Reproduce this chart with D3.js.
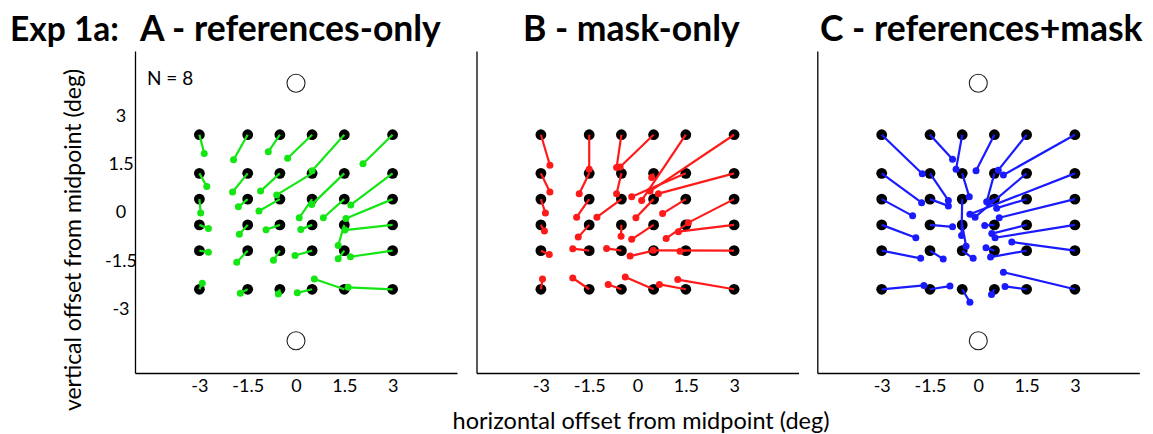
<!DOCTYPE html>
<html><head><meta charset="utf-8">
<script src="https://cdn.jsdelivr.net/npm/d3@7"></script>
<style>body{margin:0;background:#fff} svg{display:block} text{font-family:Lato, "Open Sans", sans-serif}</style>
</head><body><svg id="c" width="1153" height="434"></svg>
<script>
// ---- data ----
const gridX = [-3, -1.5, -0.5, 0.5, 1.5, 3];
const gridY = [2.4, 1.2, 0.4, -0.4, -1.2, -2.4];
const xTicks = [-3, -1.5, 0, 1.5, 3];
const yTicks = [3, 1.5, 0, -1.5, -3];
const panelTitles = ["A - references-only", "B - mask-only", "C - references+mask"];
const refCircleY = [4, -4];

// perceived positions, row-major (rows = gridY, cols = gridX)
const refsOnlyX = [
  -2.85, -1.94, -0.86, -0.26, 0.50, 2.08,
  -2.77, -1.97, -1.10, -0.60, 0.49, 1.70,
  -2.96, -1.79, -1.15, 0.10, 0.85, 1.55,
  -2.72, -1.76, -0.93, 0.15, 1.31, 1.52,
  -2.72, -1.84, -0.70, -0.03, 1.31, 1.69,
  -2.91, -1.73, -0.55, 0.04, 0.57, 1.62];
const refsOnlyY = [
  1.82, 1.62, 1.87, 1.67, 1.28, 1.50,
  0.79, 0.62, 0.65, 0.53, 0.23, 0.22,
  -0.03, 0.16, 0.03, -0.18, -0.18, -0.20,
  -0.51, -0.69, -0.55, -0.54, -1.04, -0.56,
  -1.25, -1.56, -1.50, -1.35, -1.45, -1.39,
  -2.21, -2.52, -2.55, -2.51, -2.08, -2.34];
const maskOnlyX = [
  -2.72, -1.50, -0.65, -0.54, 0.13, 0.39,
  -2.72, -1.81, -0.65, 0.44, -0.18, 0.65,
  -2.86, -1.89, -1.26, -0.05, 0.78, 1.58,
  -2.89, -1.84, -0.51, -0.18, 0.89, 1.27,
  -2.74, -2.01, -0.96, -0.23, 1.32, 0.49,
  -2.95, -2.01, -0.91, -0.38, 0.68, 1.25];
const maskOnlyY = [
  1.45, 1.33, 1.38, 1.40, 0.36, 0.65,
  0.62, 0.57, 0.57, 1.07, 0.47, 0.57,
  -0.03, -0.16, -0.16, -0.18, -0.05, -0.33,
  -0.59, -0.78, -0.75, -0.85, -0.82, -0.61,
  -1.32, -1.14, -1.13, -1.37, -1.22, -1.19,
  -2.08, -2.05, -2.25, -2.02, -2.25, -2.10];
const refsMaskX = [
  -1.74, -0.80, -0.69, -0.07, 0.62, 0.78,
  -1.76, -0.93, -0.28, 0.26, -0.10, -0.26,
  -2.04, -0.93, -0.52, 0.31, 0.57, 0.65,
  -1.94, -0.80, -0.38, 0.20, 0.42, 0.52,
  -1.79, -1.09, -0.16, 0.24, 0.38, 1.04,
  -1.69, -0.88, -0.26, 0.41, 0.83, 0.78];
const refsMaskY = [
  1.19, 1.64, 1.33, 1.28, 1.30, 1.15,
  0.29, 0.36, 0.47, 0.32, -0.16, -0.07,
  -0.12, 0.19, -0.73, 0.29, 0.12, -0.18,
  -0.80, -0.46, -1.06, -0.42, -0.67, -0.80,
  -1.44, -1.46, -1.44, -1.11, -1.40, -0.93,
  -2.28, -2.30, -2.80, -2.56, -2.31, -1.87];

// ---- layout ----
const svg = d3.select("#c");
svg.append("rect").attr("width", 1153).attr("height", 434).attr("fill", "#fff");
const size = 322, plotTop = 51;
const panels = [
  {title: panelTitles[0], left: 135, titleX: 140, px: refsOnlyX, py: refsOnlyY, color: "#14e614", circles: true, yLabels: true},
  {title: panelTitles[1], left: 476.5, titleX: 523, px: maskOnlyX, py: maskOnlyY, color: "#ff1a1a", circles: false, yLabels: false},
  {title: panelTitles[2], left: 817.3, titleX: 820, px: refsMaskX, py: refsMaskY, color: "#1a1aff", circles: true, yLabels: false}
];

svg.append("text").attr("x", 10).attr("y", 41).attr("font-weight", 700).attr("font-size", 33.5).text("Exp 1a:");

panels.forEach((p, pi) => {
  const x = d3.scaleLinear().domain([-5, 5]).range([p.left, p.left + size]);
  const y = d3.scaleLinear().domain([-5, 5]).range([plotTop + size, plotTop]);
  svg.append("text").attr("x", p.titleX).attr("y", 41).attr("font-weight", 700).attr("font-size", 35.5).text(p.title);

  const gx = svg.append("g").attr("transform", `translate(0,${plotTop + size})`)
    .call(d3.axisBottom(x).tickValues(xTicks).tickSize(0).tickSizeOuter(0).tickPadding(6).tickFormat(d => String(d)));
  gx.selectAll("text").attr("font-size", 18).attr("font-family", "Lato").attr("fill", "#000");
  gx.select(".domain").attr("stroke", "#000").attr("stroke-width", 1.3);

  const gy = svg.append("g").attr("transform", `translate(${p.left},0)`)
    .call(d3.axisLeft(y).tickValues(p.yLabels ? yTicks : []).tickSize(0).tickSizeOuter(0).tickPadding(14).tickFormat(d => String(d)));
  gy.selectAll("text").attr("font-size", 18).attr("font-family", "Lato").attr("fill", "#000")
    .attr("text-anchor", "middle").attr("x", -14);
  gy.select(".domain").attr("stroke", "#000").attr("stroke-width", 1.3);

  const items = [];
  gridY.forEach((gyv, r) => gridX.forEach((gxv, c) => {
    const i = r * gridX.length + c;
    items.push({x0: gxv, y0: gyv, x1: p.px[i], y1: p.py[i]});
  }));

  if (p.circles) {
    svg.append("g").selectAll("circle").data(refCircleY).join("circle")
      .attr("cx", x(0)).attr("cy", d => y(d)).attr("r", 9)
      .attr("fill", "#fff").attr("stroke", "#222").attr("stroke-width", 1.1);
  }
  svg.append("g").selectAll("circle").data(items).join("circle")
    .attr("cx", d => x(d.x0)).attr("cy", d => y(d.y0)).attr("r", 5.4).attr("fill", "#000");
  svg.append("g").selectAll("line").data(items).join("line")
    .attr("x1", d => x(d.x0)).attr("y1", d => y(d.y0))
    .attr("x2", d => x(d.x1)).attr("y2", d => y(d.y1))
    .attr("stroke", p.color).attr("stroke-width", 2.2);
  svg.append("g").selectAll("circle").data(items).join("circle")
    .attr("cx", d => x(d.x1)).attr("cy", d => y(d.y1)).attr("r", 3.5).attr("fill", p.color);

  if (pi === 0) {
    svg.append("text").attr("x", 147).attr("y", 85).attr("font-size", 19).text("N = 8");
  }
});

svg.append("text").attr("x", 641).attr("y", 429).attr("text-anchor", "middle").attr("font-size", 23.5)
  .text("horizontal offset from midpoint (deg)");
svg.append("text").attr("transform", "translate(81,240) rotate(-90)").attr("text-anchor", "middle").attr("font-size", 23)
  .text("vertical offset from midpoint (deg)");
</script></body></html>
